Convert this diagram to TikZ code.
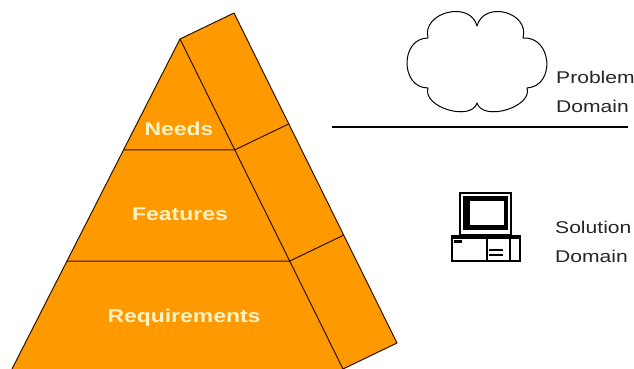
\documentclass[tikz,border=0pt]{standalone}
\usepackage{fontspec}
\setmainfont{Liberation Sans}
\newfontfamily\lblfont[FakeStretch=1.24]{Liberation Sans}
\usetikzlibrary{calc}
\definecolor{pyrorange}{HTML}{FF9900}
\definecolor{pyrline}{HTML}{2E1200}
\definecolor{pyrtext}{HTML}{FFF3C6}
\tikzset{
  layer/.style={font=\lblfont\bfseries\fontsize{18.5}{20}\selectfont, text=pyrtext, inner sep=0pt},
  domlabel/.style={font=\lblfont\fontsize{17}{28.5}\selectfont, align=left, inner sep=0pt, text=black!85},
  edge/.style={draw=pyrline, line width=1pt, line join=round}
}
\begin{document}
\begin{tikzpicture}[x=1pt,y=-1pt]
  \useasboundingbox (0,0) rectangle (634,369);
  %% Pyramid corners
  \coordinate (apex) at (180,39);
  \coordinate (bl) at (12,369);
  \coordinate (br) at (343,369);
  \coordinate (top) at ($(apex)+(54,-26)$);
  \coordinate (back) at ($(br)+(54,-26)$);
  %% Layer levels
  \foreach \t/\n in {0.336/a,0.673/b} {
    \coordinate (l\n) at ($(apex)!\t!(bl)$);
    \coordinate (r\n) at ($(apex)!\t!(br)$);
  }
  %% Faces
  \fill[pyrorange] (apex) -- (top) -- (back) -- (br) -- (bl) -- cycle;
  \draw[edge] (bl) -- (apex) -- (br) -- (back) -- (top) -- (apex);
  \draw[edge] (la) -- (ra) -- ++(54,-26);
  \draw[edge] (lb) -- (rb) -- ++(54,-26);
  %% Layer names
  \node[layer, anchor=base] (needs) at (179,135) {Needs};
  \node[layer, anchor=base] (feat) at (180,220) {Features};
  \node[layer, anchor=base] (req) at (184,322) {Requirements};
  %% Problem domain: cloud
  \draw[line width=1pt, line join=round] (477,26)
    .. controls (484,0) and (530,12) .. (523,38)
    .. controls (552,36) and (556,86) .. (527,88)
    .. controls (533,107) and (483,122) .. (477,103)
    .. controls (471,122) and (422,107) .. (428,88)
    .. controls (400,88) and (400,38) .. (428,38)
    .. controls (421.5,12) and (470.5,0) .. cycle;
  \node[domlabel, anchor=base west] (prob) at (556,112) {Problem\\Domain};
  \coordinate (divl) at (332,127);
  \coordinate (divr) at (628,127);
  \draw[line width=1.2pt] (divl) -- (divr);
  %% Solution domain: computer
  \draw[line width=1.8pt] (460,193) rectangle (511,235);
  \fill (463,196) rectangle (508,230);
  \fill[white] (470,201) rectangle (504,225);
  \draw[line width=1.8pt] (452,236) rectangle (520,261);
  \fill (452,235) rectangle (520,238.5);
  \fill (454,240) rectangle (462,242.5);
  \draw[line width=1.4pt] (487,238) rectangle (510,261);
  \foreach \y in {250,255} {
    \draw[line width=1.4pt] (489,\y) -- (503,\y);
  }
  \node[domlabel, anchor=base west] (sol) at (555,262) {Solution\\Domain};
\end{tikzpicture}
\end{document}
